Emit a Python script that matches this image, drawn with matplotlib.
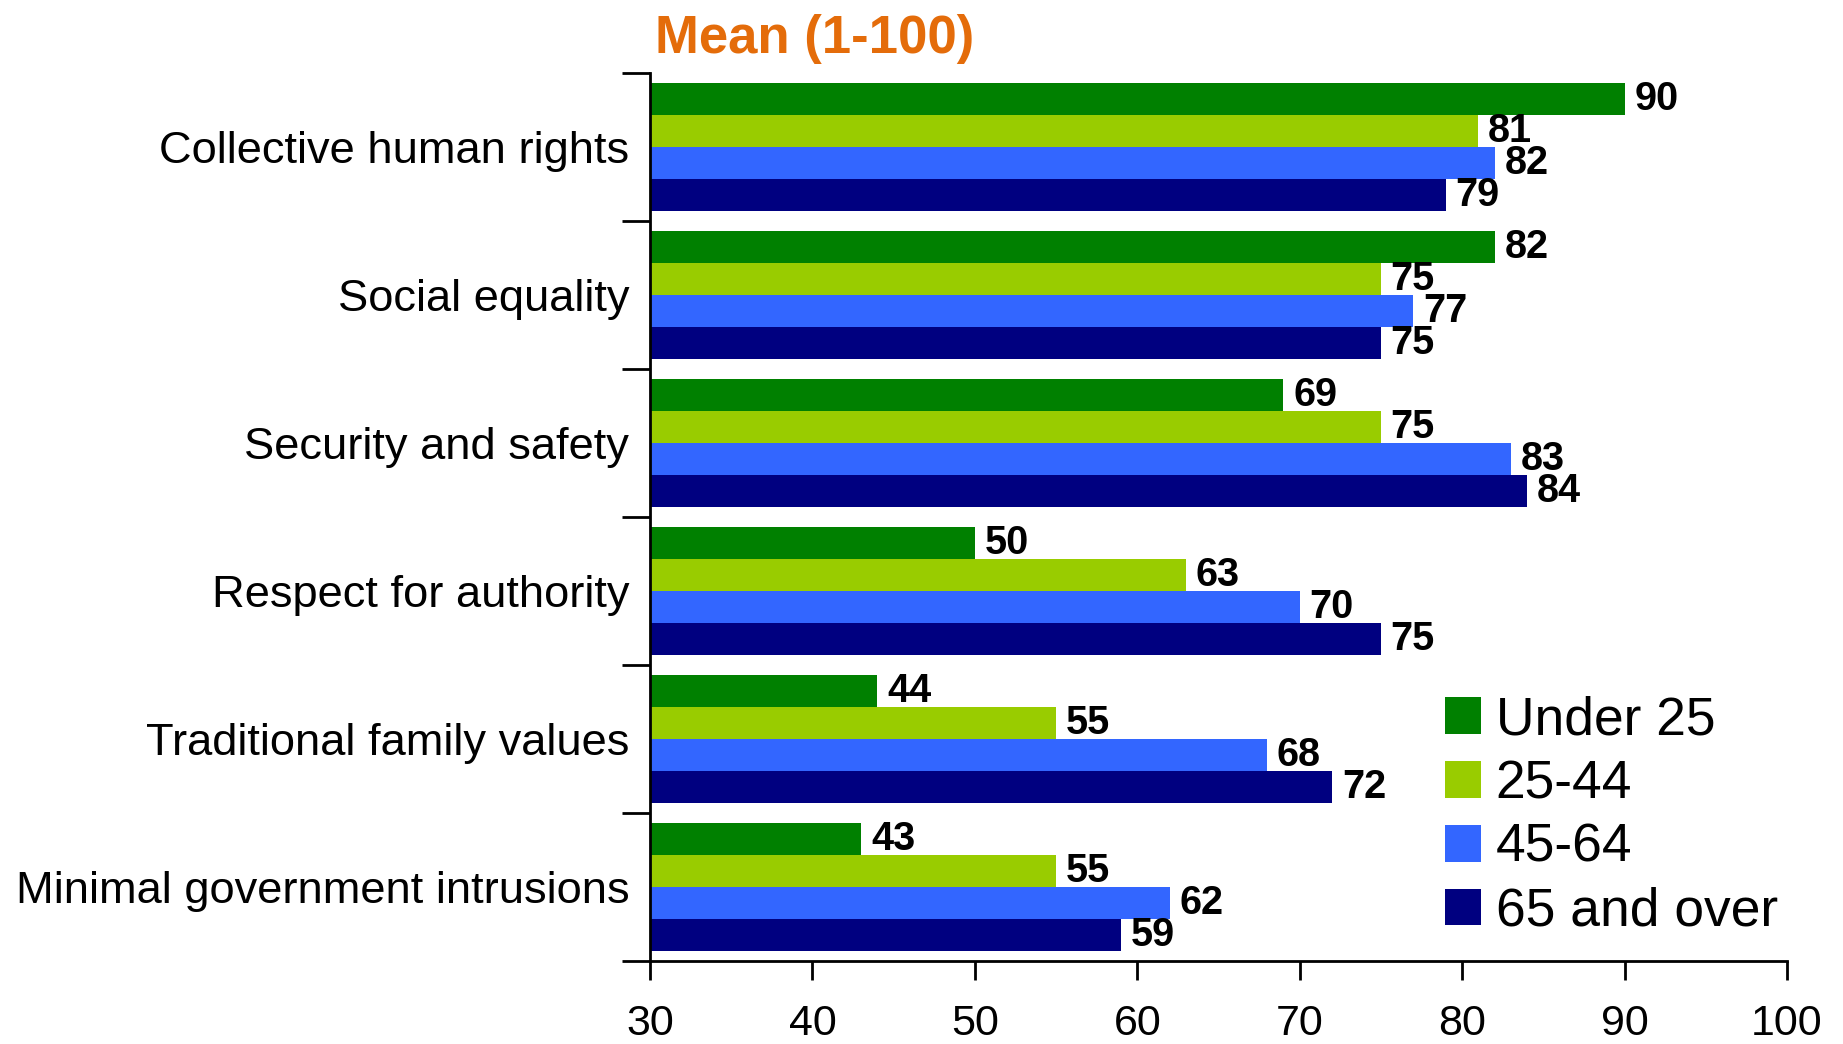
import numpy as np
import matplotlib
matplotlib.use('Agg')
import matplotlib.pyplot as plt
from matplotlib.patches import Patch

plt.rcParams['font.family'] = ['Liberation Sans', 'DejaVu Sans']

# ---- data ----
categories = ['Collective human rights', 'Social equality', 'Security and safety',
              'Respect for authority', 'Traditional family values',
              'Minimal government intrusions']
series_names = ['Under 25', '25-44', '45-64', '65 and over']
under_25 = [90, 82, 69, 50, 44, 43]
age_25_44 = [81, 75, 75, 63, 55, 55]
age_45_64 = [82, 77, 83, 70, 68, 62]
age_65_over = [79, 75, 84, 75, 72, 59]
x_ticks = [30, 40, 50, 60, 70, 80, 90, 100]
colors = ['#008000', '#99CC00', '#3366FF', '#000080']

series = [under_25, age_25_44, age_45_64, age_65_over]

fig = plt.figure(figsize=(18.43, 10.44), dpi=100)
ax = fig.add_axes([650 / 1843, 1 - 961 / 1044, (1787 - 650) / 1843, (961 - 73) / 1044])

y = np.arange(len(categories))
h = 0.215
left = x_ticks[0]
for i, (vals, col) in enumerate(zip(series, colors)):
    pos = y - 1.5 * h + i * h
    widths = [v - left for v in vals]
    ax.barh(pos, widths, left=left, height=h, color=col, label=series_names[i])
    for p, v in zip(pos, vals):
        ax.annotate(f'{v}', xy=(v, p), xytext=(7, 0), textcoords='offset points',
                    va='center', ha='left', fontsize=28.5, fontweight='bold')

ax.set_xlim(x_ticks[0], x_ticks[-1])
ax.set_ylim(len(categories) - 0.5, -0.5)

ax.set_xticks(x_ticks)
ax.set_xticklabels([str(t) for t in x_ticks], fontsize=31)
ax.tick_params(axis='x', length=14, width=2, direction='out', pad=17)

ax.set_yticks(y)
ax.set_yticklabels(categories, fontsize=32.6)
ax.set_yticks(np.arange(-0.5, len(categories)), minor=True)
ax.tick_params(axis='y', which='major', length=0, pad=15)
ax.tick_params(axis='y', which='minor', length=20, width=2, direction='out')

for s in ['top', 'right']:
    ax.spines[s].set_visible(False)
for s in ['left', 'bottom']:
    ax.spines[s].set_linewidth(2)

fig.text(655 / 1843, 1 - 53 / 1044, 'Mean (1-100)', color='#E46C0A', fontsize=38,
         fontweight='bold', ha='left', va='baseline')

handles = [Patch(facecolor=c, edgecolor='none') for c in colors]
fig.legend(handles, series_names, loc='center left',
           bbox_to_anchor=(1445 / 1843, 1 - 816 / 1044), frameon=False,
           fontsize=38.4, handlelength=0.68, handleheight=0.68, handletextpad=0.27,
           labelspacing=0.26, borderpad=0, borderaxespad=0)

fig.savefig('out.png', dpi=100)
